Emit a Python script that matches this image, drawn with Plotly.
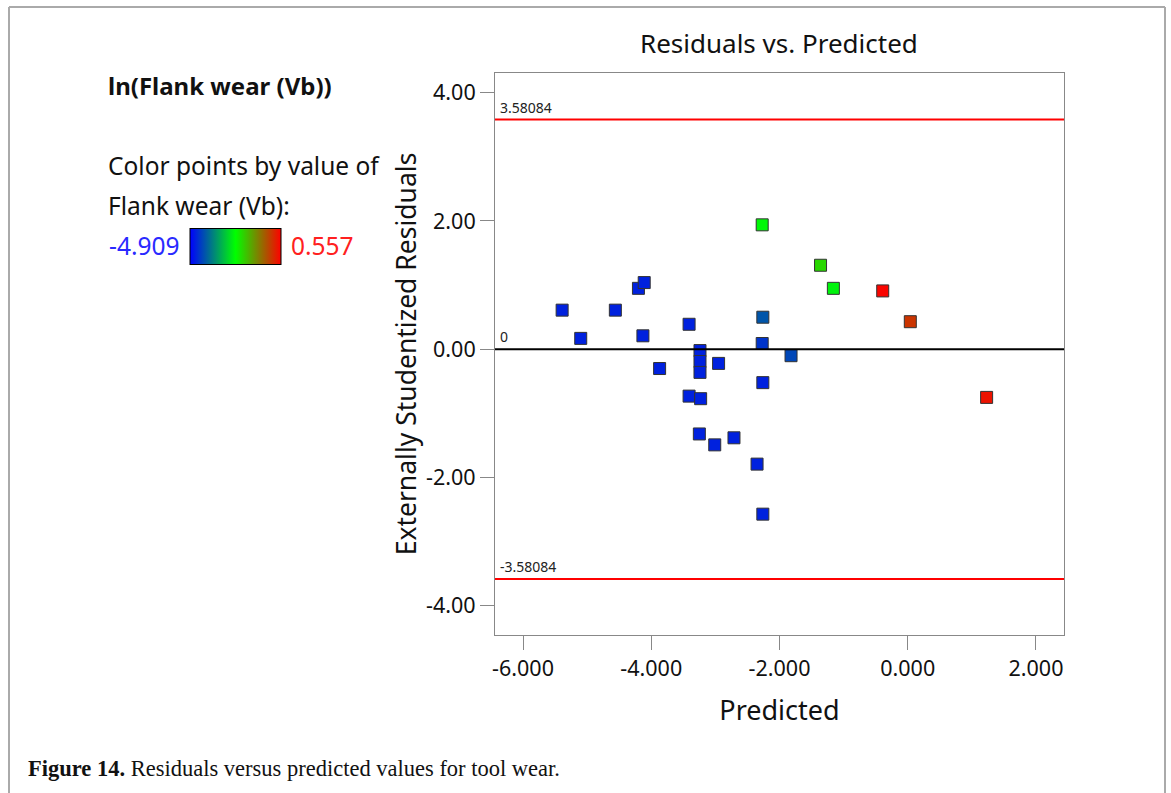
import plotly.graph_objects as go

# ---------------- data ----------------
predicted = [-5.39, -5.10, -4.56, -4.20, -4.11, -4.13, -3.87, -3.41, -3.41, -3.23,
             -3.24, -3.24, -3.24, -2.95, -3.25, -3.01, -2.71, -2.35, -2.26, -2.27,
             -2.26, -1.82, -2.26, -2.27, -1.36, -1.16, -0.39, 0.04, 1.23]
residuals = [0.61, 0.17, 0.61, 0.95, 1.04, 0.21, -0.30, 0.39, -0.73, -0.77,
             -0.02, -0.19, -0.36, -0.22, -1.32, -1.49, -1.38, -1.79, 0.50, 0.09,
             -0.52, -0.10, -2.57, 1.94, 1.31, 0.95, 0.91, 0.43, -0.75]
flank_wear = [-4.55, -4.55, -4.55, -4.55, -4.55, -4.55, -4.55, -4.55, -4.55, -4.55,
              -4.55, -4.55, -4.55, -4.55, -4.55, -4.55, -4.55, -4.55, -4.00, -4.35,
              -4.55, -4.15, -4.55, -2.25, -1.75, -2.30, 0.50, 0.00, 0.35]
color_min = -4.909
color_max = 0.557
upper_limit = 3.58084
lower_limit = -3.58084
x_ticks = [-6, -4, -2, 0, 2]
x_tick_labels = ["-6.000", "-4.000", "-2.000", "0.000", "2.000"]
y_ticks = [4, 2, 0, -2, -4]
y_tick_labels = ["4.00", "2.00", "0.00", "-2.00", "-4.00"]

# ---------------- layout geometry ----------------
W, H = 1171, 793
L, R, T, B = 495, 1064, 73, 635
PW, PH = R - L, B - T


def px(x):
    return (x - L) / PW


def py(y):
    return (B - y) / PH


FONT = "Noto Sans, Open Sans, sans-serif"
SERIF = "Liberation Serif, Times New Roman, serif"

colorscale = [[0.0, "#0000ff"], [0.5, "#00ff00"], [1.0, "#ff0000"]]

fig = go.Figure()
fig.add_trace(go.Scatter(
    x=predicted, y=residuals, mode="markers",
    marker=dict(
        symbol="square", size=12,
        color=flank_wear, cmin=color_min, cmax=color_max,
        colorscale=colorscale,
        line=dict(color="#333333", width=1),
        showscale=True,
        colorbar=dict(
            orientation="h", thickness=36, thicknessmode="pixels",
            len=91, lenmode="pixels",
            x=px(235.5), xanchor="center", y=py(247), yanchor="middle",
            xpad=0, ypad=0, outlinewidth=1, outlinecolor="#000000",
            showticklabels=False, ticks="", borderwidth=0,
        ),
    ),
    showlegend=False, hoverinfo="x+y",
))

shapes = [
    dict(type="line", xref="paper", yref="y", x0=0, x1=1, y0=upper_limit, y1=upper_limit,
         line=dict(color="#ff0000", width=2)),
    dict(type="line", xref="paper", yref="y", x0=0, x1=1, y0=lower_limit, y1=lower_limit,
         line=dict(color="#ff0000", width=2)),
    dict(type="line", xref="paper", yref="y", x0=0, x1=1, y0=0, y1=0,
         line=dict(color="#000000", width=2)),
    # outer frame
    dict(type="line", xref="paper", yref="paper", x0=px(9), x1=px(1165), y0=py(7), y1=py(7),
         line=dict(color="#aaaaaa", width=2)),
    dict(type="line", xref="paper", yref="paper", x0=px(9), x1=px(9), y0=py(7), y1=py(793),
         line=dict(color="#aaaaaa", width=2)),
    dict(type="line", xref="paper", yref="paper", x0=px(1165), x1=px(1165), y0=py(7), y1=py(793),
         line=dict(color="#aaaaaa", width=2)),
]

annotations = [
    dict(text="Residuals vs. Predicted", x=px(779), y=py(43), xref="paper", yref="paper",
         xanchor="center", yanchor="middle", showarrow=False,
         font=dict(family=FONT, size=26, color="#111111")),
    dict(text="<b>ln(Flank wear (Vb))</b>", x=px(106), y=py(86), xref="paper", yref="paper",
         xanchor="left", yanchor="middle", showarrow=False,
         font=dict(family=FONT, size=24, color="#111111")),
    dict(text="Color points by value of", x=px(106), y=py(165), xref="paper", yref="paper",
         xanchor="left", yanchor="middle", showarrow=False,
         font=dict(family=FONT, size=24.5, color="#111111")),
    dict(text="Flank wear (Vb):", x=px(106), y=py(205), xref="paper", yref="paper",
         xanchor="left", yanchor="middle", showarrow=False,
         font=dict(family=FONT, size=24.5, color="#111111")),
    dict(text="%.3f" % color_min, x=px(182), y=py(246), xref="paper", yref="paper",
         xanchor="right", yanchor="middle", showarrow=False,
         font=dict(family=FONT, size=24.5, color="#2a2aff")),
    dict(text="%.3f" % color_max, x=px(289), y=py(246), xref="paper", yref="paper",
         xanchor="left", yanchor="middle", showarrow=False,
         font=dict(family=FONT, size=24.5, color="#ff2020")),
    dict(text="%.5f" % upper_limit, x=px(498), y=upper_limit, xref="paper", yref="y",
         xanchor="left", yanchor="bottom", showarrow=False, yshift=1,
         font=dict(family=FONT, size=14, color="#222222")),
    dict(text="%.5f" % lower_limit, x=px(498), y=lower_limit, xref="paper", yref="y",
         xanchor="left", yanchor="bottom", showarrow=False, yshift=1,
         font=dict(family=FONT, size=14, color="#222222")),
    dict(text="0", x=px(498), y=0, xref="paper", yref="y",
         xanchor="left", yanchor="bottom", showarrow=False, yshift=1,
         font=dict(family=FONT, size=14, color="#222222")),
    dict(text="<b>Figure 14.</b> Residuals versus predicted values for tool wear.",
         x=px(26), y=py(768), xref="paper", yref="paper",
         xanchor="left", yanchor="middle", showarrow=False,
         font=dict(family=SERIF, size=22.5, color="#111111")),
]

axis_common = dict(
    showline=True, linecolor="#888888", linewidth=1, mirror=True,
    ticks="outside", ticklen=14, tickcolor="#888888", tickwidth=1,
    showgrid=False, zeroline=False,
    tickfont=dict(family=FONT, size=21.5, color="#111111"),
)

fig.update_layout(
    width=W, height=H,
    margin=dict(l=L, r=W - R, t=T, b=H - B, autoexpand=False),
    paper_bgcolor="white", plot_bgcolor="white",
    xaxis=dict(range=[-6.437, 2.437], tickvals=x_ticks, ticktext=x_tick_labels,
               title=dict(text="Predicted", standoff=20,
                          font=dict(family=FONT, size=27, color="#111111")),
               **axis_common),
    yaxis=dict(range=[-4.454, 4.307], tickvals=y_ticks, ticktext=y_tick_labels,
               title=dict(text="Externally Studentized Residuals", standoff=1,
                          font=dict(family=FONT, size=26.5, color="#111111")),
               **axis_common),
    shapes=shapes, annotations=annotations,
)

fig.write_html("out.html")
